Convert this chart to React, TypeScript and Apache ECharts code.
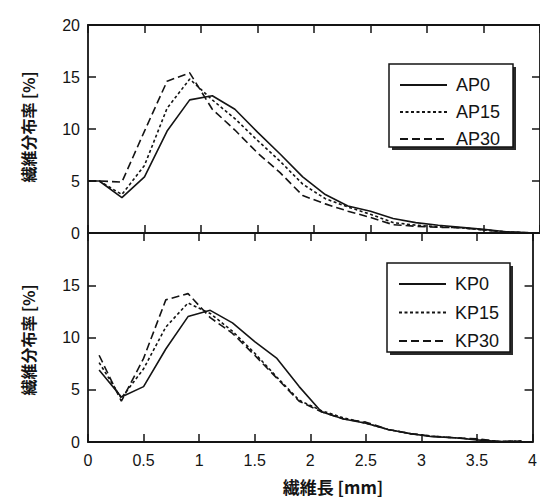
import React, { useEffect, useRef } from "react";
import * as echarts from "echarts";

const lengthsTop = [0, 0.1, 0.3, 0.5, 0.7, 0.9, 1.1, 1.3, 1.5, 1.7, 1.9, 2.1, 2.3, 2.5, 2.7, 2.9, 3.1, 3.3, 3.5, 3.7, 3.9];
const ap0 = [5, 5, 3.4, 5.4, 9.8, 12.8, 13.2, 11.9, 9.7, 7.6, 5.4, 3.7, 2.6, 2.1, 1.4, 1.0, 0.75, 0.55, 0.35, 0.12, 0.03];
const ap15 = [5, 5, 3.7, 6.5, 12.0, 14.8, 12.8, 11.0, 8.9, 6.9, 4.7, 3.3, 2.5, 1.8, 1.0, 0.75, 0.6, 0.5, 0.3, 0.1, 0.03];
const ap30 = [5, 5, 4.9, 9.8, 14.6, 15.4, 11.9, 9.9, 7.7, 5.8, 3.6, 2.8, 2.1, 1.5, 0.8, 0.65, 0.55, 0.5, 0.3, 0.1, 0.03];

const lengthsBottom = [0.1, 0.3, 0.5, 0.7, 0.9, 1.1, 1.3, 1.5, 1.7, 1.9, 2.1, 2.3, 2.5, 2.7, 2.9, 3.1, 3.3, 3.5, 3.7, 3.9];
const kp0 = [6.9, 4.3, 5.3, 8.9, 12.0, 12.6, 11.4, 9.6, 8.0, 5.3, 2.9, 2.2, 1.8, 1.2, 0.8, 0.5, 0.4, 0.2, 0.05, 0.05];
const kp15 = [7.6, 4.2, 7.0, 11.0, 13.3, 12.3, 10.6, 8.5, 6.2, 4.0, 3.0, 2.3, 1.8, 1.2, 0.8, 0.55, 0.4, 0.25, 0.05, 0.1];
const kp30 = [8.3, 3.9, 8.0, 13.6, 14.2, 11.9, 10.4, 8.3, 6.1, 3.9, 2.9, 2.2, 1.9, 1.2, 0.8, 0.55, 0.4, 0.3, 0.05, 0.1];

const xTicks = [0, 0.5, 1, 1.5, 2, 2.5, 3, 3.5, 4];
const yTicks = [0, 5, 10, 15, 20];

const xName = "繊維長 [mm]";
const yName = "繊維分布率 [%]";

const INK = "#141414";
const NUM_FONT = "'Liberation Sans', Arial, sans-serif";
const CJK_FONT = "'Noto Sans CJK JP', sans-serif";

const pair = (xs: number[], ys: number[]) => xs.map((x, i) => [x, ys[i]]);

export default function App() {
  const ref = useRef<HTMLDivElement>(null);
  useEffect(() => {
    if (!ref.current) return;
    const chart = echarts.init(ref.current, undefined, { renderer: "svg" });

    const xBase = (gridIndex: number, position: string, showLabel: boolean) => ({
      type: "value",
      gridIndex,
      position,
      min: xTicks[0],
      max: xTicks[xTicks.length - 1],
      interval: 0.5,
      axisLine: { show: true, onZero: false, lineStyle: { color: INK, width: 1.8 } },
      axisTick: { show: true, inside: true, length: 8, lineStyle: { color: INK, width: 1.5 } },
      axisLabel: {
        show: showLabel,
        color: INK,
        fontSize: 16,
        fontFamily: NUM_FONT,
        margin: 10,
        formatter: (v: number) => String(v),
      },
      splitLine: { show: false },
    });
    const yBase = (gridIndex: number, position: string, showLabel: boolean, hideMax: boolean) => ({
      type: "value",
      gridIndex,
      position,
      min: yTicks[0],
      max: yTicks[yTicks.length - 1],
      interval: 5,
      axisLine: { show: true, onZero: false, lineStyle: { color: INK, width: 1.8 } },
      axisTick: { show: true, inside: true, length: 8, lineStyle: { color: INK, width: 1.5 } },
      axisLabel: {
        show: showLabel,
        color: INK,
        fontSize: 16,
        fontFamily: NUM_FONT,
        margin: 8,
        formatter: (v: number) => (hideMax && v === yTicks[yTicks.length - 1] ? "" : String(v)),
      },
      splitLine: { show: false },
    });

    const lineSeries = (name: string, data: number[][], idx: number, type: any) => ({
      name,
      type: "line",
      xAxisIndex: idx,
      yAxisIndex: idx,
      data,
      symbol: "none",
      showSymbol: false,
      lineStyle: { color: INK, width: 1.6, type },
      itemStyle: { color: INK },
      z: 2,
    });

    const legendBase = (names: string[], left: number, top: number, gap: number) => ({
      data: names.map((n) => ({ name: n, itemStyle: { opacity: 0 } })),
      orient: "vertical",
      left,
      top,
      itemWidth: 47,
      itemHeight: 14,
      itemGap: gap,
      padding: 0,
      z: 10,
      selectedMode: false,
      itemStyle: { opacity: 0 },
      textStyle: { color: INK, fontSize: 18, fontFamily: NUM_FONT, padding: [0, 0, 0, 4] },
    });

    const box = (x: number, y: number, w: number, h: number) => [
      { type: "rect", z: 5, shape: { x: x + 3, y: y + 3, width: w, height: h }, style: { fill: "#2a2a2a" } },
      { type: "rect", z: 6, shape: { x, y, width: w, height: h }, style: { fill: "#fff", stroke: INK, lineWidth: 1.5 } },
    ];

    chart.setOption({
      animation: false,
      backgroundColor: "#fff",
      grid: [
        { left: 88, top: 25, width: 453, height: 208 },
        { left: 88, top: 233, width: 453, height: 209 },
      ],
      xAxis: [
        xBase(0, "bottom", false),
        xBase(1, "bottom", true),
        xBase(0, "top", false),
        xBase(1, "top", false),
      ],
      yAxis: [
        yBase(0, "left", true, false),
        yBase(1, "left", true, true),
        yBase(0, "right", false, false),
        yBase(1, "right", false, false),
      ],
      legend: [
        legendBase(["AP0", "AP15", "AP30"], 399, 76, 9),
        legendBase(["KP0", "KP15", "KP30"], 398, 275, 10.5),
      ],
      graphic: [
        ...box(389, 64, 124, 83),
        ...box(387, 263, 123, 89),
        {
          type: "text",
          x: 333,
          y: 486,
          style: { text: xName, fill: INK, fontSize: 17, fontWeight: "bold", fontFamily: CJK_FONT, align: "center", verticalAlign: "middle" },
        },
        {
          type: "text",
          x: 28,
          y: 127,
          rotation: Math.PI / 2,
          style: { text: yName, fill: INK, fontSize: 16, fontWeight: "bold", fontFamily: CJK_FONT, align: "center", verticalAlign: "middle" },
        },
        {
          type: "text",
          x: 28,
          y: 340,
          rotation: Math.PI / 2,
          style: { text: yName, fill: INK, fontSize: 16, fontWeight: "bold", fontFamily: CJK_FONT, align: "center", verticalAlign: "middle" },
        },
      ],
      series: [
        lineSeries("AP0", pair(lengthsTop, ap0), 0, "solid"),
        lineSeries("AP15", pair(lengthsTop, ap15), 0, [3, 2.5]),
        lineSeries("AP30", pair(lengthsTop, ap30), 0, [8, 4]),
        lineSeries("KP0", pair(lengthsBottom, kp0), 1, "solid"),
        lineSeries("KP15", pair(lengthsBottom, kp15), 1, [3, 2.5]),
        lineSeries("KP30", pair(lengthsBottom, kp30), 1, [8, 4]),
      ],
    });
    return () => chart.dispose();
  }, []);
  return (
    <div
      ref={ref}
      style={{ position: "fixed", left: 0, top: 0, width: 540, height: 498, background: "#fff" }}
    />
  );
}
